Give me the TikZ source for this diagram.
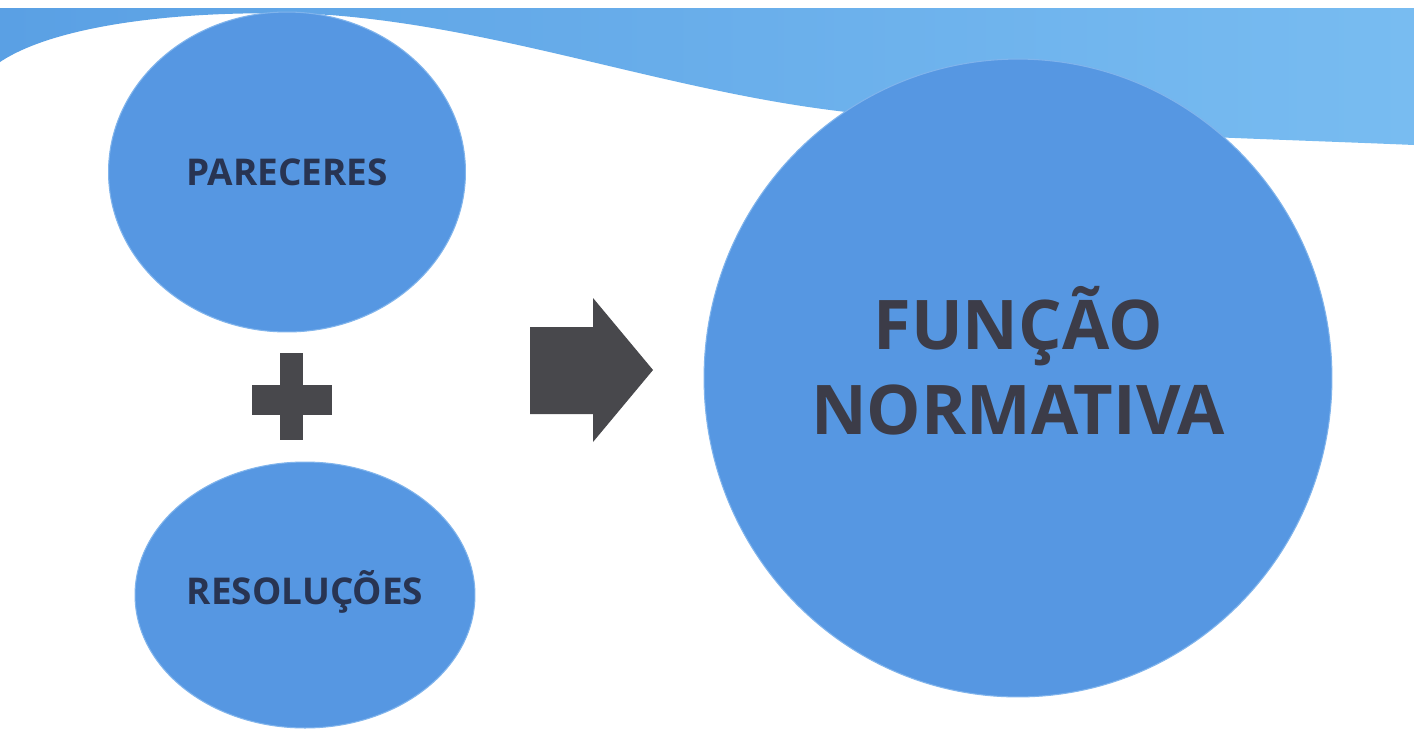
\documentclass[tikz,border=0pt]{standalone}
\usepackage{fontspec}
\setmainfont{Open Sans}
\usetikzlibrary{shapes.geometric}
\definecolor{bolha}{RGB}{86,151,226}
\definecolor{borda}{RGB}{128,180,236}
\definecolor{faixaA}{RGB}{90,160,228}
\definecolor{faixaB}{RGB}{120,188,241}
\definecolor{escuro}{RGB}{72,72,76}
\definecolor{azultexto}{RGB}{40,52,82}
\definecolor{cinzatexto}{RGB}{60,60,72}
\begin{document}
\begin{tikzpicture}[x=.02cm,y=-.02cm,
	bolha/.style={ellipse,fill=bolha,draw=borda,line width=.6pt,inner sep=0pt,font=\bfseries\fontsize{21}{24}\selectfont,text=azultexto},
	sinal/.style={fill=escuro}]
	\useasboundingbox(0,0)rectangle(1414,730);
	\fill[white](0,0)rectangle(1414,730);
	\coordinate(M)at(292,397);
	\coordinate(S)at(530,370);
	%faixa ondulada no topo
	\shade[left color=faixaA,right color=faixaB](0,8)--(1414,8)--(1414,145) .. controls (1250,138) and (1000,132) .. (830,110) .. controls (660,88) and (500,28) .. (330,15) .. controls (200,8) and (60,22) .. (0,62)--cycle;
	\node[bolha,minimum width=7.14cm,minimum height=6.4cm](pareceres)at(287,172){PARECERES};
	\node[bolha,minimum width=6.8cm,minimum height=5.32cm,text depth=.3cm](resolucoes)at(305,595){RESOLUÇÕES};
	\node[bolha,minimum width=12.56cm,minimum height=12.76cm,align=center,text depth=.7cm,font=\bfseries\fontsize{39}{48}\selectfont,text=cinzatexto](funcao)at(1018,378){FUNÇÃO\\NORMATIVA};
	\fill[sinal]([xshift=-.24cm,yshift=.88cm]M)rectangle([xshift=.22cm,yshift=-.86cm]M);
	\fill[sinal]([xshift=-.8cm,yshift=.24cm]M)rectangle([xshift=.8cm,yshift=-.36cm]M);
	\fill[sinal](S)++(0,-43)--++(63,0)--++(0,-29)--++(60,72)--++(-60,72)--++(0,-28)--++(-63,0)--cycle;
\end{tikzpicture}
\end{document}
